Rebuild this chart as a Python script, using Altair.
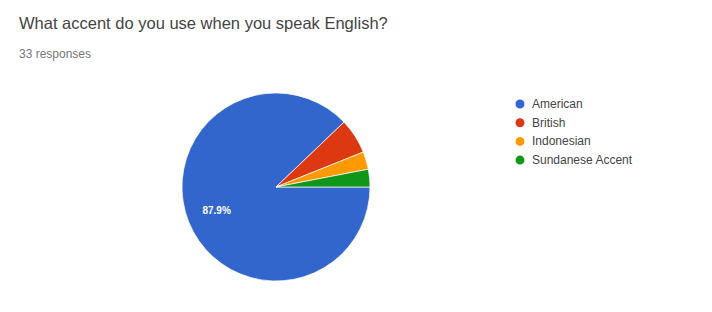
import math
import altair as alt
import pandas as pd

categories = ["American", "British", "Indonesian", "Sundanese Accent"]
counts = [29, 2, 1, 1]
colors = ["#3366cc", "#dc3912", "#ff9900", "#109618"]
title_text = "What accent do you use when you speak English?"
subtitle_text = "33 responses"

total = sum(counts)
df = pd.DataFrame({
    "accent": categories,
    "count": counts,
    "idx": list(range(len(categories))),
})
df["label"] = [f"{c / total * 100:.1f}%" if c / total >= 0.1 else "" for c in counts]

CX, CY, R = 268, 179, 94

theta_enc = alt.Theta("count:Q", stack=True,
                      scale=alt.Scale(range=[math.pi / 2, math.pi / 2 + 2 * math.pi]))

base = alt.Chart(df).encode(
    theta=theta_enc,
    order=alt.Order("idx:Q"),
)

pie = base.mark_arc(radius=R, stroke="white", strokeWidth=0.7).encode(
    x=alt.value(CX), y=alt.value(CY),
    color=alt.Color(
        "accent:N",
        scale=alt.Scale(domain=categories, range=colors),
        sort=categories,
        legend=alt.Legend(
            title=None, orient="none", legendX=506, legendY=90,
            symbolType="circle", symbolSize=110, labelFontSize=12,
            labelColor="#444444", labelFont="Arial", rowPadding=0.7,
            labelOffset=6,
        ),
    ),
)

labels = base.mark_text(radius=64, color="white", fontSize=10, fontWeight="bold",
                        font="Arial").encode(
    x=alt.value(CX), y=alt.value(CY),
    text="label:N",
)

title_df = pd.DataFrame({"t": [title_text]})
sub_df = pd.DataFrame({"t": [subtitle_text]})

title = alt.Chart(title_df).mark_text(
    align="left", baseline="alphabetic", fontSize=16.5, font="Arial", color="#444444"
).encode(x=alt.value(11), y=alt.value(21), text="t:N")

subtitle = alt.Chart(sub_df).mark_text(
    align="left", baseline="alphabetic", fontSize=12, font="Arial", color="#777777"
).encode(x=alt.value(11), y=alt.value(50), text="t:N")

chart = alt.layer(pie, labels, title, subtitle).properties(
    width=696, height=296,
    autosize=alt.AutoSizeParams(type="none"),
    padding=0,
).configure_view(stroke=None)

chart.save("out.html", embed_options={"renderer": "svg", "actions": False})
